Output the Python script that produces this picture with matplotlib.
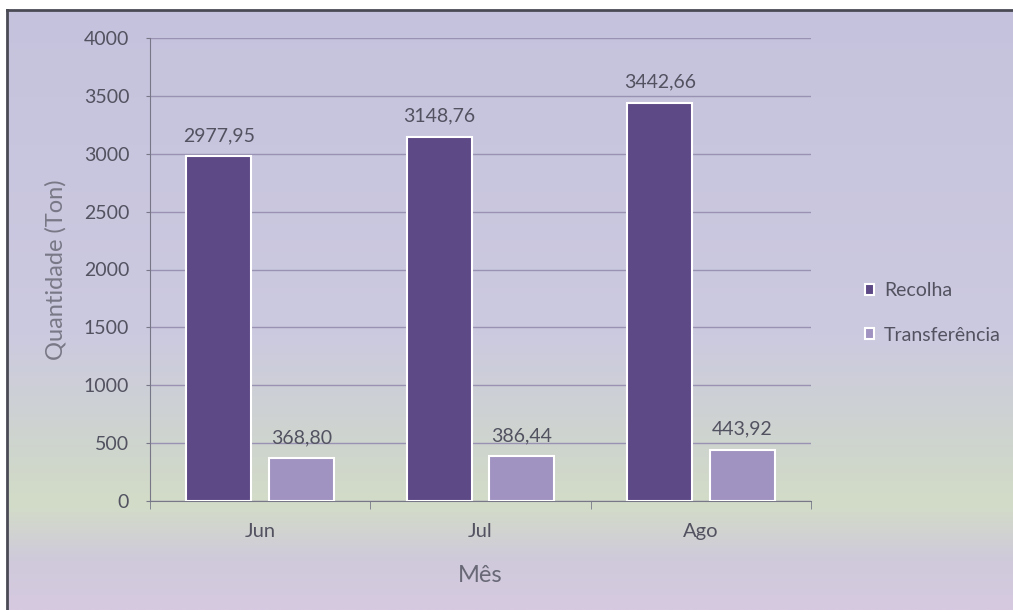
import numpy as np
import matplotlib
matplotlib.use("Agg")
import matplotlib.pyplot as plt
from matplotlib.colors import LinearSegmentedColormap
from matplotlib.patches import Rectangle
from matplotlib.lines import Line2D

meses = ["Jun", "Jul", "Ago"]
recolha = [2977.95, 3148.76, 3442.66]
transferencia = [368.80, 386.44, 443.92]
yticks = [0, 500, 1000, 1500, 2000, 2500, 3000, 3500, 4000]

plt.rcParams['font.family'] = ['Lato', 'DejaVu Sans']

W, H = 1013, 610
fig = plt.figure(figsize=(W / 100, H / 100), dpi=100)

# fundo em gradiente (lilás -> verde claro -> lilás rosado)
bg = fig.add_axes([0, 0, 1, 1], zorder=0)
cmap = LinearSegmentedColormap.from_list("fundo", [
    (0.0, "#c5c2dd"),
    (0.55, "#cccae0"),
    (0.75, "#cfd6cc"),
    (0.83, "#d3dcc8"),
    (0.92, "#cfcadb"),
    (1.0, "#d6c9e0"),
])
grad = np.linspace(0, 1, 256).reshape(-1, 1)
bg.imshow(grad, aspect="auto", cmap=cmap, extent=[0, 1, 0, 1], origin="upper")
bg.set_xlim(0, 1)
bg.set_ylim(0, 1)
# margem branca e moldura (só em cima e à esquerda)
bg.add_patch(Rectangle((0, 1 - 9 / H), 1, 9 / H, color="white", zorder=2))
bg.add_patch(Rectangle((0, 0), 6 / W, 1, color="white", zorder=2))
bg.add_line(Line2D([7 / W, 1], [1 - 10 / H, 1 - 10 / H], color="#4a4a55", linewidth=2, zorder=3))
bg.add_line(Line2D([7 / W, 7 / W], [0, 1 - 10 / H], color="#4a4a55", linewidth=2, zorder=3))
bg.axis("off")

ax = fig.add_axes([150 / W, 1 - 501 / H, 661 / W, 463 / H], zorder=1)
ax.patch.set_alpha(0)

x = np.arange(len(meses))
w = 0.295
cor_rec = "#5d4985"
cor_tra = "#a093c2"
b1 = ax.bar(x - 0.187, recolha, w, color=cor_rec, edgecolor="white", linewidth=1.5,
            label="Recolha", zorder=3)
b2 = ax.bar(x + 0.187, transferencia, w, color=cor_tra, edgecolor="white", linewidth=1.5,
            label="Transferência", zorder=3)

txt = "#525260"
for bars, vals in [(b1, recolha), (b2, transferencia)]:
    for b, v in zip(bars, vals):
        ax.annotate(f"{v:.2f}".replace(".", ","), (b.get_x() + b.get_width() / 2, v),
                    xytext=(0, 15), textcoords="offset points", ha="center", va="center",
                    fontsize=14, color=txt)

ax.set_xlim(-0.5, 2.5)
ax.set_ylim(0, 4000)
ax.set_yticks(yticks)
ax.set_xticks(x)
ax.set_xticklabels(meses)
ax.set_xticks([-0.5, 0.5, 1.5, 2.5], minor=True)
ax.tick_params(axis="x", which="major", length=0, pad=16, labelsize=14.5, labelcolor=txt)
ax.tick_params(axis="x", which="minor", length=6, color="#777788", direction="out")
ax.tick_params(axis="y", length=3, color="#777788", labelsize=14, labelcolor=txt, pad=12)
ax.grid(axis="y", color="#9992b2", linewidth=1.0, zorder=0)
for s in ["top", "right"]:
    ax.spines[s].set_visible(False)
ax.spines["left"].set_color("#777788")
ax.spines["bottom"].set_color("#777788")

ax.set_xlabel("Mês", fontsize=17, color="#686876", labelpad=18)
ax.set_ylabel("Quantidade (Ton)", fontsize=17, color="#787886", labelpad=12)

leg = fig.legend(handles=[b1, b2], loc="center left", bbox_to_anchor=(847 / W, 1 - 313 / H),
                 frameon=False, fontsize=14, labelcolor=txt, handlelength=0.5,
                 handleheight=0.5, labelspacing=1.4, handletextpad=0.5)

fig.savefig("out.png", dpi=100)
